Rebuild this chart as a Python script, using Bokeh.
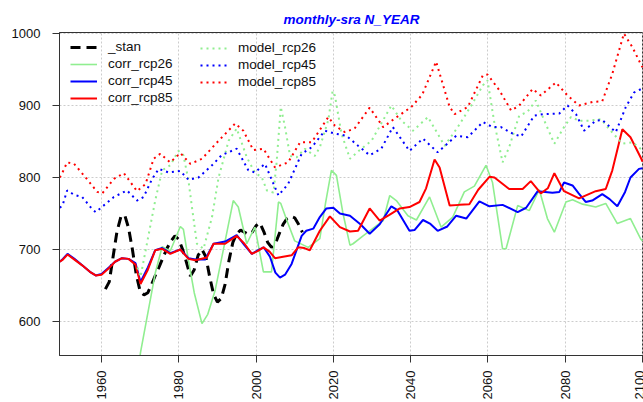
import math
from bokeh.plotting import figure
from bokeh.models import Range1d, Legend, LegendItem, FixedTicker
from bokeh.embed import file_html
from bokeh.resources import INLINE

# ---------------- data ----------------
stan_year = [1961, 1962, 1963, 1964, 1965, 1966, 1967, 1968, 1969, 1970, 1971, 1972, 1973,
             1974, 1975, 1976, 1977, 1978, 1979, 1980, 1981, 1982, 1983, 1984, 1985, 1986,
             1987, 1988, 1989, 1990, 1991, 1992, 1993, 1994, 1995, 1996, 1997, 1998, 1999,
             2000, 2001, 2002, 2003, 2004, 2005, 2006, 2007, 2008, 2009, 2010, 2011, 2012]
stan_val = [645, 655, 690, 725, 745, 748, 730, 700, 665, 642, 637, 640, 652,
            665, 677, 690, 702, 712, 719, 714, 700, 682, 663, 672, 692, 700,
            690, 662, 638, 627, 632, 652, 685, 710, 722, 727, 724, 721, 724,
            733, 737, 725, 710, 703, 708, 722, 735, 743, 746, 744, 735, 724]

corr26_year = [1969.8, 1970.1, 1973.9, 1975.7, 1977.8, 1980.4, 1981.2, 1982.5, 1984, 1986,
               1987.5, 1989.4, 1992, 1994.1, 1995.4, 1997.6, 1999.7, 2001.9, 2004, 2005.8,
               2006.4, 2008, 2010, 2013.5, 2016.5, 2018, 2019.5, 2020.8, 2022.5, 2024.3,
               2025.1, 2027.7, 2032.9, 2034.6, 2036.3, 2039.3, 2041.5, 2044.9, 2047.9,
               2050.9, 2053.9, 2056.5, 2059.5, 2061.2, 2063.8, 2064.7, 2067.7, 2070.7,
               2073.3, 2075.4, 2077.2, 2080.2, 2081.9, 2084.5, 2087.9, 2090.5, 2093.5,
               2096.9, 2099.5, 2100]
corr26_val = [545, 557, 667, 704, 698, 732, 728, 685, 640, 597,
              610, 643, 712, 768, 759, 708, 731, 669, 669, 766,
              764, 740, 712, 703, 715, 765, 810, 803, 750, 706,
              708, 719, 740, 775, 768, 747, 741, 773, 731,
              745, 780, 788, 817, 793, 701, 701, 761, 754,
              783, 743, 724, 766, 769, 763, 759, 764, 736,
              743, 715, 712]

corr45_year = [1949.2, 1950, 1951.2, 1953, 1955, 1957, 1958.5, 1960, 1961.9, 1963.5, 1965.3,
               1967, 1968.8, 1970.1, 1972, 1973.9, 1975.7, 1977.8, 1980.4, 1982.5, 1984.3,
               1986.8, 1989, 1992, 1995, 1997, 1998.9, 2000.5, 2002, 2003.6, 2005, 2006.2,
               2007.5, 2009.2, 2011.8, 2013, 2014.8, 2016.5, 2018.2, 2020, 2021.7, 2024.3,
               2027, 2029.4, 2032, 2035, 2036.5, 2039.7, 2041, 2043.2, 2045, 2047, 2049.5,
               2051.8, 2054.4, 2057.8, 2060.4, 2063.8, 2067.7, 2069.9, 2072.9, 2076.7,
               2078.5, 2079.7, 2081.9, 2083.5, 2085.3, 2087, 2089.6, 2091.5, 2093.5,
               2095.5, 2096.9, 2099.1, 2100]
corr45_val = [683, 687, 694, 687, 678, 669, 664, 666, 675, 683, 688,
              687, 681, 655, 675, 699, 702, 695, 700, 688, 686,
              686, 708, 711, 720, 706, 694, 699, 703, 690, 668, 661,
              665, 680, 719, 726, 729, 745, 757, 758, 750, 747,
              735, 722, 735, 760, 755, 726, 727, 741, 736, 726, 732,
              747, 743, 767, 760, 762, 752, 758, 781, 779,
              780, 793, 789, 778, 766, 768, 777, 770, 760,
              780, 800, 812, 813]

corr85_year = [1949.2, 1950, 1951.2, 1953, 1955, 1957, 1958.5, 1960, 1961.9, 1963.5, 1965.3,
               1967, 1968.8, 1970.1, 1972, 1973.9, 1975.7, 1977.8, 1980.4, 1982.5, 1984.3,
               1987.3, 1989, 1992, 1995, 1997, 1998.9, 2000.5, 2001.9, 2003.5, 2004.9, 2007,
               2009.2, 2010.9, 2012.5, 2013.9, 2016.5, 2019.1, 2021.7, 2024.3, 2026.4,
               2029.4, 2032, 2034.5, 2037.2, 2039.7, 2042.3, 2044, 2046.2, 2047.5, 2050.1,
               2052.6, 2055.2, 2057.5, 2060.4, 2061.7, 2065.5, 2069, 2071.1, 2073.7,
               2075.5, 2077.2, 2079.7, 2083.6, 2087.9, 2090.5, 2092.2, 2094.8, 2096.9,
               2099.7, 2100]
corr85_val = [683, 686, 693, 686, 678, 669, 664, 665, 674, 683, 688,
              687, 679, 652, 672, 699, 701, 694, 700, 687, 685,
              689, 708, 708, 719, 708, 694, 698, 703, 697, 688, 690,
              692, 703, 702, 699, 726, 746, 731, 725, 726,
              757, 740, 748, 757, 759, 766, 785, 825, 814, 761,
              762, 763, 783, 801, 800, 784, 784, 795, 778,
              785, 806, 781, 771, 781, 784, 810, 867, 856,
              826, 822]

model26_year = [1969.3, 1970.1, 1972, 1973.9, 1975.7, 1977.8, 1979.9, 1981.2, 1982.5, 1983.4,
                1984.7, 1986.4, 1988.6, 1990.3, 1992.9, 1995, 1997.6, 1999.7, 2001.5,
                2002.8, 2004.5, 2005.3, 2006.4, 2007.5, 2008.8, 2010.5, 2012.6, 2015.2,
                2016.5, 2018.7, 2019.8, 2020.4, 2022.1, 2024.3, 2026.8, 2029.9, 2035,
                2037.6, 2040.6, 2044.5, 2048.8, 2052.2, 2055.7, 2058.7, 2059.9, 2061.7,
                2063.8, 2065.5, 2068.1, 2070.2, 2072.4, 2074.6, 2077.2, 2079.7, 2081.5,
                2083.6, 2086.2, 2089.2, 2091.8, 2094.8, 2097.4, 2100]
model26_val = [675, 662, 715, 768, 810, 817, 837, 831, 796, 759,
               708, 701, 745, 800, 851, 868, 828, 807, 800,
               782, 779, 820, 898, 870, 830, 828, 840, 830,
               842, 880, 920, 914, 861, 826, 838, 851, 900,
               879, 865, 884, 844, 870, 900, 928, 935, 875,
               821, 842, 886, 891, 907, 879, 847, 870, 884,
               879, 879, 881, 865, 847, 849, 838]

model45_year = [1949.2, 1949.9, 1951.1, 1952.9, 1955, 1957.6, 1958.5, 1961, 1963.2, 1966.6,
                1969.2, 1970.9, 1973.1, 1974.8, 1977.4, 1980.4, 1982.5, 1985.1, 1988.6,
                1991.1, 1995, 1998, 1999.7, 2002.3, 2005.8, 2008.3, 2011.8, 2014.4, 2017.8,
                2020.4, 2023.4, 2026.4, 2029.4, 2032.4, 2035.4, 2039.7, 2043.2, 2047,
                2051.8, 2054.8, 2058.7, 2061.2, 2063.4, 2066.4, 2068.6, 2072, 2074.2,
                2078.5, 2080.6, 2082.8, 2084.9, 2087.9, 2089.6, 2093.1, 2095.7, 2097.8,
                2099.7, 2100]
model45_val = [758, 761, 782, 776, 773, 756, 752, 763, 773, 782,
               768, 773, 798, 812, 807, 809, 797, 800, 817,
               831, 840, 810, 807, 819, 775, 791, 833, 842, 865,
               861, 858, 844, 831, 840, 870, 837, 854, 835,
               858, 856, 877, 870, 870, 861, 857, 886, 888,
               889, 900, 888, 865, 879, 880, 863, 898, 918,
               923, 924]

model85_year = [1949.2, 1949.9, 1951.1, 1952.9, 1955.9, 1958.9, 1960.2, 1963.2, 1965.8, 1969.2,
                1971.4, 1973.5, 1975.2, 1977.8, 1980.4, 1983, 1986, 1990.3, 1994.6, 1996.7,
                1999.3, 2001.9, 2004.9, 2008.3, 2011.4, 2014.4, 2018.7, 2020.4, 2023,
                2025.5, 2029.4, 2032.9, 2035.9, 2040.2, 2043, 2046.6, 2050.1, 2051.4,
                2054.8, 2058.7, 2059.9, 2063, 2066, 2068.1, 2071.6, 2073.7, 2077.6,
                2080.6, 2083.6, 2087.1, 2089.6, 2092.2, 2095.2, 2097.4, 2099.7, 2100]
model85_val = [800, 807, 821, 819, 800, 780, 778, 798, 806, 781,
               791, 826, 833, 821, 834, 819, 826, 851, 875, 865,
               838, 840, 814, 821, 849, 849, 884, 872, 863,
               868, 897, 870, 882, 898, 915, 961, 898, 888,
               898, 942, 943, 921, 893, 900, 923, 914, 932,
               914, 900, 905, 906, 944, 1000, 981, 956, 953]

x_ticks = [1960, 1980, 2000, 2020, 2040, 2060, 2080, 2100]
y_ticks = [600, 700, 800, 900, 1000]
title_text = "monthly-sra N_YEAR"

# ---------------- figure ----------------
FONT = "Liberation Sans"
p = figure(width=643, height=402, output_backend="svg", toolbar_location=None,
           title=title_text, title_location="above",
           x_range=Range1d(1949.13, 2100.27), y_range=Range1d(552.8, 1001.4),
           min_border_left=59, min_border_right=0, min_border_top=32, min_border_bottom=47)
p.background_fill_color = "white"
p.border_fill_color = "white"
p.outline_line_color = "#333333"
p.outline_line_width = 1

p.title.align = "center"
p.title.text_font = FONT
p.title.text_font_size = "13.5px"
p.title.text_font_style = "bold italic"
p.title.text_color = "#0000FF"
p.title.standoff = 11

for ax in (p.xaxis[0], p.yaxis[0]):
    ax.axis_line_color = "#333333"
    ax.major_tick_line_color = "#333333"
    ax.major_tick_out = 7
    ax.major_tick_in = 0
    ax.minor_tick_line_color = None
    ax.major_label_text_font = FONT
    ax.major_label_text_font_size = "13px"
    ax.major_label_text_color = "#111111"
    ax.major_label_standoff = 8

p.yaxis[0].major_label_standoff = 12
p.xaxis[0].ticker = FixedTicker(ticks=x_ticks)
p.yaxis[0].ticker = FixedTicker(ticks=y_ticks)
p.xaxis[0].major_label_orientation = math.pi / 2

p.xgrid[0].ticker = FixedTicker(ticks=x_ticks)
p.ygrid[0].ticker = FixedTicker(ticks=y_ticks)
for g in (p.xgrid[0], p.ygrid[0]):
    g.grid_line_color = "#cccccc"
    g.grid_line_dash = "2 2"
    g.grid_line_width = 1

r_stan = p.line(stan_year, stan_val, line_color="black", line_width=3, line_dash="10 6")
r_c26 = p.line(corr26_year, corr26_val, line_color="#90EE90", line_width=1.6)
r_c45 = p.line(corr45_year, corr45_val, line_color="#0000FF", line_width=2)
r_c85 = p.line(corr85_year, corr85_val, line_color="#FF0000", line_width=2)
r_m26 = p.line(model26_year, model26_val, line_color="#90EE90", line_width=2, line_dash="2 4")
r_m45 = p.line(model45_year, model45_val, line_color="#0000FF", line_width=2, line_dash="2 4")
r_m85 = p.line(model85_year, model85_val, line_color="#FF0000", line_width=2, line_dash="2 4")


def make_legend(items, loc):
    lg = Legend(items=items, location=loc, orientation="vertical",
                padding=0, margin=0, spacing=2,
                glyph_width=27, glyph_height=14, label_height=14, label_standoff=11,
                label_text_font=FONT, label_text_font_size="13.5px",
                label_text_color="#111111",
                border_line_color=None, background_fill_alpha=0)
    p.add_layout(lg, "center")


make_legend([LegendItem(label="_stan", renderers=[r_stan]),
             LegendItem(label="corr_rcp26", renderers=[r_c26]),
             LegendItem(label="corr_rcp45", renderers=[r_c45]),
             LegendItem(label="corr_rcp85", renderers=[r_c85])], (11, 250))
make_legend([LegendItem(label="model_rcp26", renderers=[r_m26]),
             LegendItem(label="model_rcp45", renderers=[r_m45]),
             LegendItem(label="model_rcp85", renderers=[r_m85])], (141, 266))

open("out.html", "w").write(file_html(p, INLINE))
